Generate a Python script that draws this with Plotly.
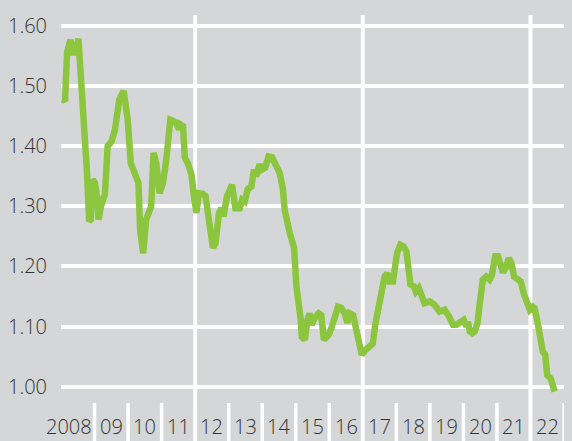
import plotly.graph_objects as go

# Data (decimal year, rate)
dates = [
    2008.05, 2008.12, 2008.18, 2008.28, 2008.35, 2008.44, 2008.52, 2008.59, 2008.69, 2008.77,
    2008.84, 2008.89, 2008.94, 2009.01, 2009.09, 2009.12, 2009.19, 2009.31, 2009.39, 2009.51,
    2009.61, 2009.74, 2009.87, 2009.99, 2010.08, 2010.23, 2010.31, 2010.36, 2010.45, 2010.54,
    2010.69, 2010.76, 2010.84, 2010.94, 2011.04, 2011.14, 2011.26, 2011.34, 2011.44, 2011.52,
    2011.56, 2011.64, 2011.69, 2011.78, 2011.89, 2011.98, 2012.04, 2012.11, 2012.23, 2012.31,
    2012.43, 2012.53, 2012.61, 2012.71, 2012.79, 2012.85, 2012.95, 2013.03, 2013.10, 2013.20,
    2013.33, 2013.40, 2013.48, 2013.57, 2013.68, 2013.75, 2013.82, 2013.92, 2013.99, 2014.09,
    2014.19, 2014.29, 2014.39, 2014.52, 2014.62, 2014.67, 2014.82, 2014.95, 2015.02, 2015.09,
    2015.15, 2015.18, 2015.27, 2015.35, 2015.41, 2015.48, 2015.56, 2015.68, 2015.76, 2015.84,
    2015.98, 2016.06, 2016.14, 2016.26, 2016.36, 2016.46, 2016.54, 2016.61, 2016.71, 2016.81,
    2016.91, 2016.97, 2017.08, 2017.23, 2017.30, 2017.37, 2017.47, 2017.55, 2017.65, 2017.73,
    2017.80, 2017.90, 2017.95, 2018.02, 2018.12, 2018.22, 2018.30, 2018.35, 2018.42, 2018.52,
    2018.58, 2018.67, 2018.76, 2018.84, 2018.99, 2019.14, 2019.29, 2019.44, 2019.57, 2019.69,
    2019.79, 2019.91, 2020.01, 2020.09, 2020.14, 2020.19, 2020.27, 2020.34, 2020.42, 2020.49,
    2020.58, 2020.68, 2020.78, 2020.85, 2020.95, 2021.03, 2021.11, 2021.18, 2021.28, 2021.35,
    2021.43, 2021.51, 2021.61, 2021.71, 2021.81, 2021.91, 2021.98, 2022.07, 2022.12, 2022.21,
    2022.27, 2022.37, 2022.44, 2022.50, 2022.60, 2022.72,
]
rates = [
    1.478, 1.475, 1.556, 1.577, 1.556, 1.556, 1.579, 1.528, 1.444, 1.361,
    1.275, 1.278, 1.345, 1.339, 1.311, 1.278, 1.300, 1.320, 1.400, 1.408,
    1.428, 1.478, 1.492, 1.444, 1.372, 1.350, 1.339, 1.261, 1.222, 1.278,
    1.300, 1.389, 1.372, 1.322, 1.339, 1.378, 1.444, 1.442, 1.439, 1.428,
    1.436, 1.433, 1.381, 1.372, 1.353, 1.311, 1.289, 1.322, 1.321, 1.317,
    1.272, 1.231, 1.239, 1.289, 1.297, 1.283, 1.317, 1.331, 1.336, 1.297,
    1.297, 1.311, 1.308, 1.329, 1.333, 1.361, 1.350, 1.370, 1.361, 1.364,
    1.383, 1.382, 1.370, 1.356, 1.328, 1.294, 1.256, 1.231, 1.167, 1.139,
    1.111, 1.083, 1.078, 1.111, 1.122, 1.103, 1.114, 1.122, 1.119, 1.078,
    1.086, 1.097, 1.111, 1.133, 1.131, 1.122, 1.106, 1.122, 1.119, 1.094,
    1.067, 1.053, 1.061, 1.069, 1.072, 1.103, 1.131, 1.156, 1.183, 1.189,
    1.175, 1.175, 1.189, 1.222, 1.236, 1.233, 1.225, 1.189, 1.170, 1.167,
    1.158, 1.164, 1.150, 1.139, 1.142, 1.136, 1.125, 1.128, 1.117, 1.103,
    1.103, 1.108, 1.111, 1.100, 1.108, 1.092, 1.089, 1.092, 1.106, 1.139,
    1.178, 1.183, 1.178, 1.186, 1.217, 1.217, 1.203, 1.190, 1.200, 1.214,
    1.206, 1.183, 1.179, 1.175, 1.153, 1.133, 1.128, 1.133, 1.131, 1.108,
    1.089, 1.058, 1.053, 1.019, 1.014, 0.992,
]

years = list(range(2008, 2023))
year_labels = ["2008", "09", "10", "11", "12", "13", "14", "15", "16", "17",
               "18", "19", "20", "21", "22"]
y_ticks = [1.0, 1.1, 1.2, 1.3, 1.4, 1.5, 1.6]
y_tick_labels = ["1.00", "1.10", "1.20", "1.30", "1.40", "1.50", "1.60"]
major_years = [2012, 2017, 2022]

BG = "#d5d6d8"
GREEN = "#8cc63f"
TEXT = "#333333"
FONT = "Open Sans"

fig = go.Figure()
fig.add_trace(go.Scatter(
    x=dates, y=rates, mode="lines",
    line=dict(color=GREEN, width=6.5),
    hoverinfo="skip", showlegend=False,
))

shapes = []
# tall separators every five years
for yr in major_years:
    shapes.append(dict(type="line", xref="x", yref="paper", x0=yr, x1=yr,
                       y0=-0.1, y1=1, line=dict(color="white", width=4), layer="below"))
# short separators between year labels
for yr in years[1:] + [years[-1] + 1]:
    if yr in major_years:
        continue
    shapes.append(dict(type="line", xref="x", yref="paper", x0=yr, x1=yr,
                       y0=-0.1, y1=0, line=dict(color="white", width=3.5), layer="below"))

annotations = []
for yr, lab in zip(years, year_labels):
    annotations.append(dict(
        x=yr + 0.5, y=-0.061, xref="x", yref="paper", text=lab, showarrow=False,
        xanchor="center", yanchor="middle", xshift=-9 if lab == "2008" else 0,
        font=dict(family=FONT, size=20, color=TEXT, weight=300),
    ))

fig.update_layout(
    width=572, height=441,
    margin=dict(l=61, r=8, t=15, b=38),
    paper_bgcolor=BG, plot_bgcolor=BG,
    shapes=shapes, annotations=annotations,
    xaxis=dict(range=[2008, 2023], showgrid=False, zeroline=False,
               showticklabels=False, showline=False, fixedrange=True),
    yaxis=dict(range=[0.9729, 1.6183], tickvals=y_ticks, ticktext=y_tick_labels,
               showgrid=True, gridcolor="white", gridwidth=4, zeroline=False,
               showline=False, ticks="", ticklabelstandoff=13,
               tickfont=dict(family=FONT, size=20, color=TEXT, weight=300),
               fixedrange=True),
    showlegend=False,
)

fig.write_html(
    "out.html",
    config={"displayModeBar": False},
    post_script="document.body.style.margin='0';document.body.style.overflow='hidden';document.body.style.background='" + BG + "';",
)
